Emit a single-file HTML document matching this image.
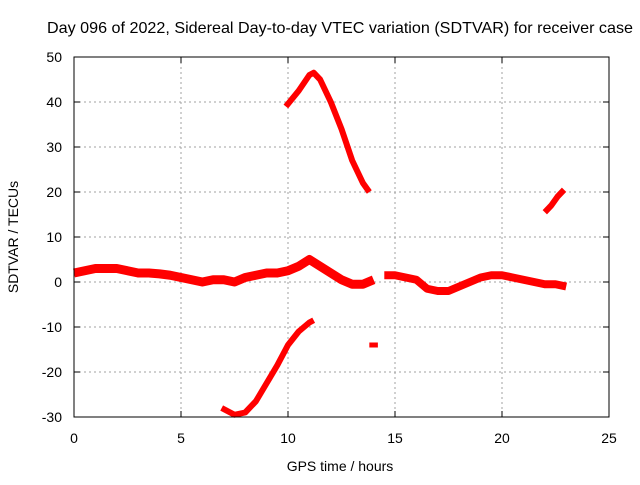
<!DOCTYPE html>
<html><head><meta charset="utf-8"><style>
body{margin:0;background:#fff}
text{font-family:"Liberation Sans",sans-serif;font-size:14px;fill:#000}
</style></head><body>
<svg id="chart" width="640" height="480" viewBox="0 0 640 480" xmlns="http://www.w3.org/2000/svg">
<rect width="640" height="480" fill="#fff"/>
<text x="340" y="33" text-anchor="middle" style="font-size:16px" textLength="586" lengthAdjust="spacingAndGlyphs">Day 096 of 2022, Sidereal Day-to-day VTEC variation (SDTVAR) for receiver case</text>
<text x="340" y="471" text-anchor="middle">GPS time / hours</text>
<text transform="translate(18,237) rotate(-90)" text-anchor="middle">SDTVAR / TECUs</text>
<g id="grid"></g><g id="series"></g>
<rect x="74" y="57" width="535" height="360" fill="none" stroke="#000" stroke-width="1"/>
</svg>
<script>
const xTicks=[0,5,10,15,20,25];
const yTicks=[-30,-20,-10,0,10,20,30,40,50];
const segMainT=[0,0.5,1,1.5,2,2.5,3,3.5,4,4.5,5,5.5,6,6.5,7,7.5,8,8.5,9,9.5,10,10.5,11,11.5,12,12.5,13,13.5,14];
const segMainV=[2,2.5,3,3,3,2.5,2,2,1.8,1.5,1,0.5,0,0.5,0.5,0,1,1.5,2,2,2.5,3.5,5,3.5,2,0.5,-0.5,-0.5,0.5];
const segLateT=[14.5,15,15.5,16,16.5,17,17.5,18,18.5,19,19.5,20,20.5,21,21.5,22,22.5,23];
const segLateV=[1.5,1.5,1,0.5,-1.5,-2,-2,-1,0,1,1.5,1.5,1,0.5,0,-0.5,-0.5,-1];
const segUpT=[9.9,10.5,11,11.2,11.5,12,12.5,13,13.5,13.8];
const segUpV=[39,42.5,46,46.5,45,40,34,27,22,20];
const segLowT=[6.9,7.5,8,8.5,9,9.5,10,10.5,11,11.2];
const segLowV=[-28,-29.5,-29,-26.5,-22.5,-18.5,-14,-11,-9,-8.5];
const segEndT=[22,22.3,22.6,22.9];
const segEndV=[15.5,17,19,20.5];
const segDotT=[13.8,14.2];
const segDotV=[-14,-14];
const X=t=>74+t*535/25, Y=v=>282-v*4.5;
const NS='http://www.w3.org/2000/svg';
const grid=document.getElementById('grid'), ser=document.getElementById('series');
function mk(tag,a,p){const e=document.createElementNS(NS,tag);for(const k in a)e.setAttribute(k,a[k]);p.appendChild(e);return e;}
xTicks.forEach(t=>{
  if(t>0&&t<25){const l=mk('line',{x1:X(t),x2:X(t),y1:57,y2:417,stroke:'#a0a0a0','stroke-dasharray':'2,3'},grid);
  
  }
  mk('line',{x1:X(t),x2:X(t),y1:417,y2:411,stroke:'#000'},grid);
  mk('line',{x1:X(t),x2:X(t),y1:57,y2:63,stroke:'#000'},grid);
  const tx=mk('text',{x:X(t),y:443,'text-anchor':'middle'},grid);tx.textContent=t;
  
  
});
yTicks.forEach(v=>{
  if(v>-30&&v<50){const l=mk('line',{x1:74,x2:609,y1:Y(v),y2:Y(v),stroke:'#a0a0a0','stroke-dasharray':'2,3'},grid);
  
  }
  mk('line',{x1:74,x2:80,y1:Y(v),y2:Y(v),stroke:'#000'},grid);
  mk('line',{x1:603,x2:609,y1:Y(v),y2:Y(v),stroke:'#000'},grid);
  const tx=mk('text',{x:62,y:Y(v)+5,'text-anchor':'end'},grid);tx.textContent=v;
  
  
});
function seg(T,V,w,name){
  const pts=T.map((t,i)=>X(t)+','+Y(V[i])).join(' ');
  const p=mk('polyline',{points:pts,fill:'none',stroke:'#f00','stroke-width':w,'stroke-linejoin':'round','stroke-linecap':'butt'},ser);
  
  
}
seg(segMainT,segMainV,9,'sdtvar-series-main');
seg(segLateT,segLateV,8,'sdtvar-series-late');
seg(segUpT,segUpV,6,'sdtvar-series-upper');
seg(segLowT,segLowV,6,'sdtvar-series-lower');
seg(segEndT,segEndV,6,'sdtvar-series-end');
seg(segDotT,segDotV,5,'sdtvar-series-dot');
</script>
</body></html>
